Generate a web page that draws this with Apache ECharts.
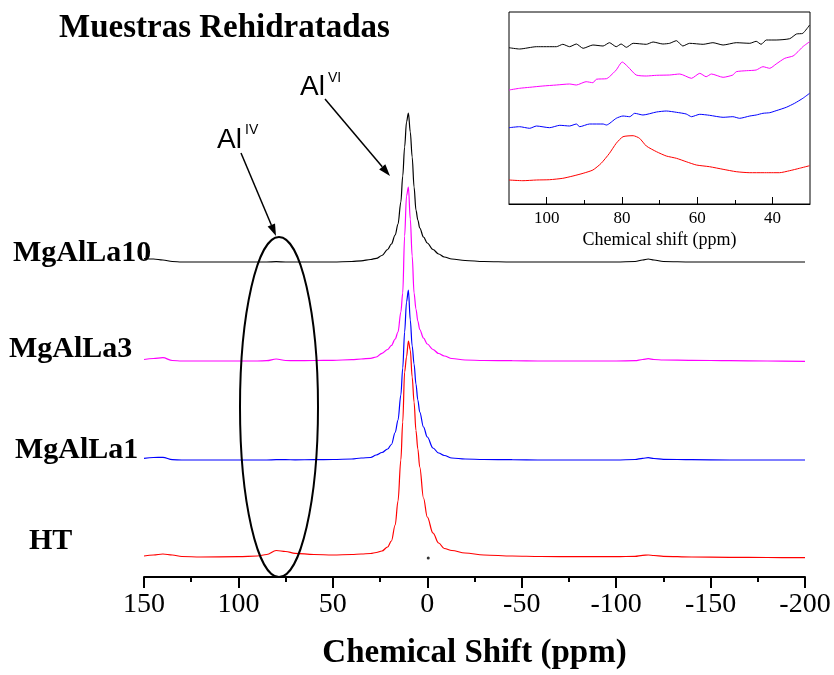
<!DOCTYPE html>
<html>
<head>
<meta charset="utf-8">
<script src="https://cdn.jsdelivr.net/npm/echarts@6/dist/echarts.min.js"></script>
<style>
  html, body { margin: 0; padding: 0; background: #fff; }
  #chart { width: 834px; height: 675px; }
</style>
</head>
<body>
<div id="chart"></div>
<script>
// main spectra: chemical shift (ppm) and intensity above each trace's baseline
var mainPpm = [150, 145, 140, 135, 130, 120, 100, 90, 85, 80, 75, 70, 60, 50, 40,
  35, 30, 27, 24, 21, 19, 17, 15.5, 14, 13, 12, 11, 10, 9, 8, 7, 6, 5, 4, 2,
  0, -3, -6, -9, -13, -20, -30, -45, -60, -80, -100, -110, -114, -117, -120,
  -125, -140, -160, -180, -200]

var mgAlLa10 = [3.5, 3, 2, 0.5, 0, 0, 0, 0, 0, 0.3, 0, 0, 0, 0, 0.5,
  1.2, 2.5, 3.7, 6.5, 12.5, 18, 27, 38, 60, 86, 115, 140, 149, 130, 105, 75, 52, 42, 34, 25,
  19, 12.5, 8, 5, 3, 1.5, 0.5, 0, 0, 0, 0, 0.5, 2, 3, 2,
  0.5, 0, 0, 0, 0]
var mgAlLa3 = [1.5, 2.5, 3.3, 0.5, 0, 0, 0, 0, 0.3, 2, 0.5, 0.3, 0.5, 0.7, 1.3,
  2, 2.7, 4, 7.7, 11.5, 15.5, 22, 29, 49, 68, 125, 165, 174, 142, 105, 68, 52, 40, 31.5, 23,
  17, 11.5, 7.5, 5, 2.5, 1, 0.5, 0.3, 0, 0, 0, 0.3, 1.5, 2.3, 1.5,
  1, 0.7, 0.3, 0, -0.3]
var mgAlLa1 = [1.7, 2.5, 2.7, 0.3, 0, 0, 0, 0, 0, 0.3, 0.3, 0.2, 0.3, 0.5, 1,
  2, 2.5, 5, 7.5, 11, 15.5, 27.5, 40, 65, 92, 128, 158, 170, 140, 114, 96, 76, 60, 48, 33,
  23, 12, 7, 4.5, 2, 1, 0.5, 0.3, 0, 0, 0, 0.5, 1.7, 2.3, 1.5,
  0.7, 0.3, 0, 0, 0]
var ht = [1, 2, 3, 2, 0.5, 0, 0.3, 1, 2.5, 6.5, 5.5, 3.7, 2.5, 2, 2.5,
  3, 3.5, 4.5, 6, 10, 16, 32, 56, 97, 135, 185, 200, 216, 207, 180, 155, 126.5, 108, 90, 59,
  40, 24, 14, 8.5, 6.5, 4, 2, 1, 0.5, 0.3, 0.3, 0.7, 1.7, 2, 1.5,
  0.7, 0, -0.3, -0.5, -0.7]

var names = ['MgAlLa10', 'MgAlLa3', 'MgAlLa1', 'HT']
var offsets = [315, 216, 117, 20]
var colors = ['#000000', '#ff00ff', '#0000ff', '#ff0000']
var xTicks = [150, 100, 50, 0, -50, -100, -150, -200]

// inset (zoom of the Al(IV) region), [ppm, intensity]
var insetBlack = [[110, 156.3], [107.2, 155], [102.7, 157.3], [97.4, 157.3], [95.7, 159.7],
  [93.9, 157.3], [92.1, 160], [90.3, 155.7], [87.7, 159], [85, 158], [83.3, 161.3],
  [81.5, 157.3], [80.2, 160], [78.8, 156.7], [77, 160.7], [73.5, 159.7], [71.7, 162],
  [69.1, 160], [67.3, 160.7], [65.5, 163.3], [63.8, 158], [62, 160.7], [58.4, 159.7],
  [55.8, 161.3], [53.1, 159], [49.6, 161.3], [46, 160.7], [44.3, 162.7], [43, 159.7],
  [41.6, 164], [39, 164], [35.4, 165.3], [33.6, 170], [31.9, 170.7], [30.1, 179]]
var insetMagenta = [[110, 114], [107.2, 115.7], [104.5, 116.7], [101, 118], [97.4, 119],
  [93.9, 120], [92.1, 119], [89.5, 122.3], [87.7, 121.3], [86.8, 124.7], [84.1, 125.3],
  [83.3, 127.3], [81.5, 134], [79.9, 142], [78.4, 137.3], [76.2, 129], [73.5, 128],
  [70.8, 128.7], [67.3, 129], [64.6, 130], [61.5, 125.7], [59.3, 130.7], [57.6, 127.3],
  [56.2, 130], [53.1, 126.7], [50.5, 129], [49.6, 132.3], [46.9, 133.3], [44.3, 134],
  [42.5, 137.3], [40.7, 135.7], [39, 140], [36.7, 145.7], [34.5, 148], [33.2, 152.3],
  [31.9, 157.3], [30.1, 162.3]]
var insetBlue = [[110, 76.3], [107.2, 77.3], [104.5, 75.7], [102.7, 78], [99.2, 76.3],
  [96.5, 78.7], [93.9, 78], [92.1, 80], [91.2, 77.3], [88.6, 80], [85, 80], [84.1, 79],
  [81.5, 85.7], [79.7, 88], [77.9, 87.3], [76.6, 90.7], [74.4, 89], [70.8, 92], [68.2, 93],
  [65.5, 91.7], [62.9, 90], [61.5, 87.3], [59.3, 89.7], [56.7, 88.7], [53.1, 86.7],
  [50.5, 87.3], [48.7, 85.7], [46, 88], [44.3, 89], [42.5, 90.7], [40.7, 91.3], [39, 93.3],
  [36.3, 96.7], [34.1, 100.7], [31.9, 105.7], [30.1, 110.7]]
var insetRed = [[110, 24], [106.3, 23.3], [102.7, 24], [99.2, 24.3], [95.7, 25.7], [93, 28],
  [90.3, 30.7], [87.7, 34], [85.5, 40.7], [83.3, 50.7], [81.5, 60.7], [79.7, 67.3],
  [77, 68.3], [75.3, 65.7], [73.5, 58], [70.8, 52.3], [68.2, 48], [65.5, 45.7],
  [62.9, 42.3], [60.2, 39], [56.7, 37.3], [53.1, 34.7], [49.6, 32.3], [46, 31.3],
  [42.5, 31.3], [38.1, 31.3], [35.4, 33.3], [32.8, 35.7], [30.1, 38.3]]
var insetMajor = [40, 60, 80, 100]
var insetMinor = [50, 70, 90]

var serif = '"Liberation Serif", "Times New Roman", serif'
var sans = '"Liberation Sans", Arial, sans-serif'

function arrow(x1, y1, x2, y2) {
  var ang = Math.atan2(y2 - y1, x2 - x1)
  var len = 12
  var half = 4
  var bx = x2 - len * Math.cos(ang)
  var by = y2 - len * Math.sin(ang)
  var px = -Math.sin(ang) * half
  var py = Math.cos(ang) * half
  return [
    { type: 'line', z: 50, shape: { x1: x1, y1: y1, x2: bx, y2: by }, style: { stroke: '#000', lineWidth: 1.5 } },
    { type: 'polygon', z: 50, shape: { points: [[x2, y2], [bx + px, by + py], [bx - px, by - py]] }, style: { fill: '#000' } }
  ]
}

function label(text, x, y, font) {
  return { type: 'text', z: 50, style: { text: text, x: x, y: y, font: font, fill: '#000', verticalAlign: 'middle' } }
}

var mainSets = [mgAlLa10, mgAlLa3, mgAlLa1, ht]
var series = mainSets.map(function(vals, k) {
  return {
    name: names[k],
    type: 'line',
    xAxisIndex: 0,
    yAxisIndex: 0,
    showSymbol: false,
    smooth: 0.35,
    smoothMonotone: 'x',
    lineStyle: { width: 1.2, color: colors[k] },
    data: mainPpm.map(function(p, i) { return [p, offsets[k] + vals[i]] })
  }
})
series.push({
  type: 'scatter', xAxisIndex: 0, yAxisIndex: 0, symbolSize: 3,
  itemStyle: { color: '#000' }, data: [[-0.5, 19]]
})
;[insetBlack, insetMagenta, insetBlue, insetRed].forEach(function(d, k) {
  series.push({
    type: 'line', xAxisIndex: 1, yAxisIndex: 1, showSymbol: false,
    smooth: 0.2,
    lineStyle: { width: 1, color: colors[k] }, data: d
  })
})

var chart = echarts.init(document.getElementById('chart'))
chart.setOption({
  backgroundColor: '#fff',
  animation: false,
  title: {
    text: 'Muestras Rehidratadas',
    left: 54,
    top: 7,
    textStyle: { fontFamily: serif, fontWeight: 'bold', fontSize: 33, color: '#000' }
  },
  grid: [
    { left: 144, right: 29, top: 77, bottom: 98 },
    { left: 509, right: 24, top: 12, bottom: 471, show: true, borderColor: '#000', borderWidth: 1 }
  ],
  xAxis: [{
    gridIndex: 0,
    type: 'value',
    inverse: true,
    min: -200,
    max: 150,
    interval: 50,
    name: 'Chemical Shift (ppm)',
    nameLocation: 'middle',
    nameGap: 60,
    nameTextStyle: { fontFamily: serif, fontWeight: 'bold', fontSize: 33, color: '#000' },
    axisLine: { lineStyle: { color: '#000', width: 2 } },
    axisTick: { length: 11, lineStyle: { color: '#000', width: 2 } },
    minorTick: { show: true, splitNumber: 2, length: 5, lineStyle: { color: '#000', width: 2 } },
    axisLabel: { margin: 14, fontFamily: serif, fontSize: 28, color: '#000', customValues: xTicks },
    splitLine: { show: false }
  }, {
    gridIndex: 1,
    type: 'value',
    position: 'bottom',
    inverse: true,
    min: 30,
    max: 110,
    name: 'Chemical shift (ppm)',
    nameLocation: 'middle',
    nameGap: 27,
    nameTextStyle: { fontFamily: serif, fontSize: 18, color: '#000' },
    axisLine: { lineStyle: { color: '#000', width: 1 } },
    axisTick: { inside: true, length: 7, customValues: insetMajor, lineStyle: { color: '#000' } },
    axisLabel: { margin: 6, fontFamily: serif, fontSize: 17, color: '#000', customValues: insetMajor },
    splitLine: { show: false }
  }, {
    gridIndex: 1,
    type: 'value',
    position: 'bottom',
    inverse: true,
    min: 30,
    max: 110,
    axisLine: { show: false },
    axisTick: { inside: true, length: 4, customValues: insetMinor, lineStyle: { color: '#000' } },
    axisLabel: { show: false },
    splitLine: { show: false }
  }],
  yAxis: [
    { gridIndex: 0, type: 'value', min: 0, max: 500, show: false },
    { gridIndex: 1, type: 'value', min: 0, max: 192, show: false }
  ],
  graphic: [
    label('MgAlLa10', 13, 253, 'bold 30px ' + serif),
    label('MgAlLa3', 9, 349, 'bold 30px ' + serif),
    label('MgAlLa1', 15, 450, 'bold 30px ' + serif),
    label('HT', 29, 541, 'bold 30px ' + serif),
    label('Al', 217, 140, '28px ' + sans),
    label('IV', 245, 130, '14px ' + sans),
    label('Al', 300, 87, '28px ' + sans),
    label('VI', 328, 78, '14px ' + sans),
    {
      type: 'ellipse', z: 50,
      shape: { cx: 279, cy: 407, rx: 39, ry: 170 },
      style: { fill: 'none', stroke: '#000', lineWidth: 2 }
    }
  ].concat(arrow(241, 153, 276, 236), arrow(325, 99, 390, 176)),
  series: series
})
</script>
</body>
</html>
